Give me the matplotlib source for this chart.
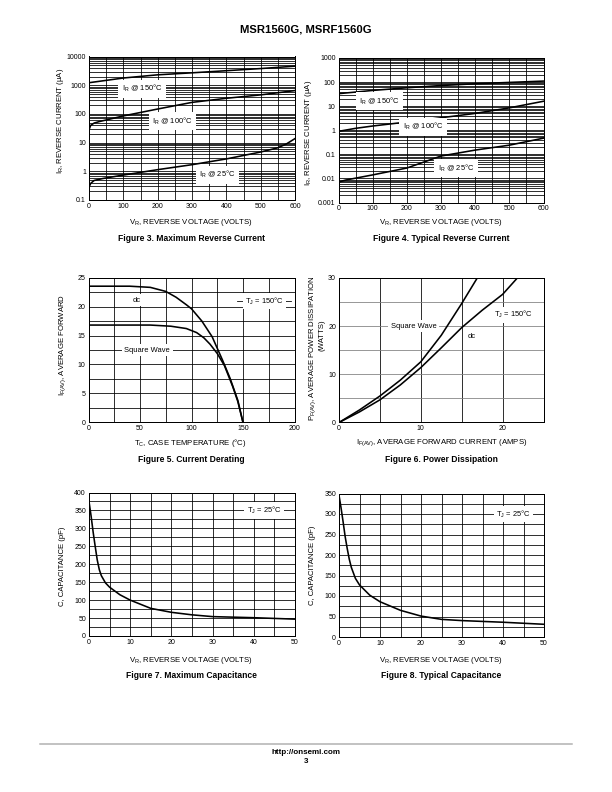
import matplotlib
matplotlib.use("Agg")
import matplotlib.pyplot as plt
from matplotlib.ticker import MultipleLocator, LogLocator, NullFormatter

plt.rcParams['font.family'] = ['Liberation Sans', 'DejaVu Sans']
plt.rcParams['mathtext.fontset'] = 'custom'
plt.rcParams['mathtext.rm'] = 'Liberation Sans'
plt.rcParams['mathtext.it'] = 'Liberation Sans:italic'
plt.rcParams['mathtext.bf'] = 'Liberation Sans:bold'
plt.rcParams['mathtext.default'] = 'regular'

W, H = 612, 792

# Figure 3 - maximum reverse current (uA)
max150_v = [0, 100, 200, 300, 400, 500, 600]
max150_ir = [1220, 1780, 2300, 2700, 3200, 3800, 4600]
max100_v = [0, 5, 15, 30, 100, 200, 300, 400, 500, 600]
max100_ir = [28, 40, 48, 54, 85, 148, 252, 350, 460, 650]
max25_v = [0, 5, 15, 40, 100, 200, 300, 400, 500, 550, 575, 600]
max25_ir = [0.28, 0.38, 0.48, 0.56, 0.74, 1.14, 1.7, 2.7, 4.7, 6.6, 9.0, 13.8]

# Figure 4 - typical reverse current (uA)
typ150_v = [0, 100, 200, 300, 400, 500, 600]
typ150_ir = [33, 45, 58, 72, 85, 97, 110]
typ100_v = [0, 50, 100, 200, 300, 400, 500, 600]
typ100_ir = [0.9, 1.2, 1.5, 2.2, 3.3, 5.0, 8.5, 16]
typ25_v = [0, 20, 100, 200, 300, 400, 500, 600]
typ25_ir = [0.007, 0.0085, 0.014, 0.027, 0.085, 0.15, 0.24, 0.47]

# Figure 5 - current derating
dc_tc = [0, 40, 60, 75, 85, 95, 100, 110, 120, 125, 130, 137.5, 145, 150]
dc_if = [23.5, 23.5, 23.3, 22.6, 21.6, 20.3, 19.6, 17.5, 14.8, 12.8, 10.8, 7.6, 3.8, 0]
sq_tc = [0, 60, 80, 95, 105, 112, 118, 125, 132, 140, 145, 150]
sq_if = [16.8, 16.8, 16.6, 16.2, 15.5, 14.6, 13.5, 11.9, 9.8, 6.2, 3.6, 0]

# Figure 6 - power dissipation
sq_i = [0, 2.5, 5, 7.5, 10, 12.5, 15, 16.9]
sq_p = [0, 2.6, 5.5, 8.8, 12.6, 18.1, 24.7, 30]
dc_i = [0, 2.5, 5, 7.5, 10, 12.5, 15, 17.5, 20, 21.8]
dc_p = [0, 2.2, 4.7, 7.8, 11.4, 15.5, 19.7, 23.3, 26.6, 30]

# Figure 7 / 8 - capacitance (pF)
cap_v = [0, 0.5, 1, 1.5, 2, 2.5, 3, 4, 5, 7.5, 10, 15, 20, 25, 30, 40, 50]
cap_max = [375, 335, 290, 250, 212, 185, 168, 148, 136, 115, 100, 77, 66, 59, 54, 51, 47]
cap_typ = [346, 315, 281, 245, 216, 190, 170, 143, 127, 102, 86, 65, 51, 43, 40, 36, 31]

fig = plt.figure(figsize=(W / 72, H / 72), dpi=72)
TICK = 7
LAB = 7.5
AXL = 7.8
CAP = 8.5
box = dict(facecolor='white', edgecolor='none', pad=2.5)
wbox = dict(facecolor='white', edgecolor='none', pad=3.5)


def add_ax(l, t, r, b):
    ax = fig.add_axes([l / W, 1 - b / H, (r - l) / W, (b - t) / H])
    ax.tick_params(which='both', length=0, labelsize=TICK, pad=3)
    for s in ax.spines.values():
        s.set_linewidth(1.0)
    ax.set_axisbelow(True)
    return ax


def ptext(x, y, s, **kw):
    fig.text(x / W, 1 - y / H, s, **kw)


def log_grid(ax, lo, hi):
    ax.set_yscale('log')
    ax.set_ylim(lo, hi)
    ax.yaxis.set_minor_locator(LogLocator(base=10, subs=range(2, 10), numticks=20))
    ax.yaxis.set_minor_formatter(NullFormatter())
    ax.grid(which='both', axis='y', color='black', lw=0.8)
    ax.xaxis.set_minor_locator(MultipleLocator(50))
    ax.grid(which='both', axis='x', color='black', lw=0.8)
    ax.set_xlim(0, 600)
    ax.set_xticks(range(0, 601, 100))


# ---- Figure 3
ax3 = add_ax(89, 56.5, 295, 200)
log_grid(ax3, 0.1, 10000)
ax3.set_yticks([0.1, 1, 10, 100, 1000, 10000], labels=['0.1', '1', '10', '100', '1000', '10000'])
ax3.plot(max150_v, max150_ir, color='black', lw=1.6)
ax3.plot(max100_v, max100_ir, color='black', lw=1.6)
ax3.plot(max25_v, max25_ir, color='black', lw=1.6)
ax3.text(155, 750, 'I$_R$ @ 150°C', fontsize=LAB, ha='center', va='center', bbox=wbox)
ax3.text(243, 57, 'I$_R$ @ 100°C', fontsize=LAB, ha='center', va='center', bbox=wbox)
ax3.text(374, 0.76, 'I$_R$ @ 25°C', fontsize=LAB, ha='center', va='center', bbox=wbox)
ptext(61, 121, 'I$_R$, REVERSE CURRENT (μA)', fontsize=AXL, rotation=90, ha='center', va='center')
ptext(191, 222.5, 'V$_R$, REVERSE VOLTAGE (VOLTS)', fontsize=AXL, ha='center', va='center')
ptext(191, 239, 'Figure 3. Maximum Reverse Current', fontsize=CAP, weight='bold', ha='center', va='center')

# ---- Figure 4
ax4 = add_ax(338.5, 58, 543.5, 202.5)
log_grid(ax4, 0.001, 1000)
ax4.set_yticks([0.001, 0.01, 0.1, 1, 10, 100, 1000], labels=['0.001', '0.01', '0.1', '1', '10', '100', '1000'])
ax4.plot(typ150_v, typ150_ir, color='black', lw=1.6)
ax4.plot(typ100_v, typ100_ir, color='black', lw=1.6)
ax4.plot(typ25_v, typ25_ir, color='black', lw=1.6)
ax4.text(120, 16, 'I$_R$ @ 150°C', fontsize=LAB, ha='center', va='center', bbox=wbox)
ax4.text(247, 1.4, 'I$_R$ @ 100°C', fontsize=LAB, ha='center', va='center', bbox=wbox)
ax4.text(344, 0.027, 'I$_R$ @ 25°C', fontsize=LAB, ha='center', va='center', bbox=wbox)
ptext(309, 133, 'I$_R$, REVERSE CURRENT (μA)', fontsize=AXL, rotation=90, ha='center', va='center')
ptext(441, 222.5, 'V$_R$, REVERSE VOLTAGE (VOLTS)', fontsize=AXL, ha='center', va='center')
ptext(441, 239, 'Figure 4. Typical Reverse Current', fontsize=CAP, weight='bold', ha='center', va='center')

# ---- Figure 5
ax5 = add_ax(88.5, 277.5, 294.5, 422.5)
ax5.set_xlim(0, 200)
ax5.set_ylim(0, 25)
ax5.set_xticks(range(0, 201, 50))
ax5.set_yticks(range(0, 26, 5))
ax5.xaxis.set_minor_locator(MultipleLocator(25))
ax5.yaxis.set_minor_locator(MultipleLocator(2.5))
ax5.grid(which='both', color='black', lw=0.8)
ax5.plot(dc_tc, dc_if, color='black', lw=1.6)
ax5.plot(sq_tc, sq_if, color='black', lw=1.6)
ax5.text(47, 21.1, 'dc', fontsize=LAB, ha='center', va='center', bbox=box)
ax5.plot([144, 197], [20.9, 20.9], color='black', lw=0.8, zorder=2)
ax5.text(171, 20.9, 'T$_J$ = 150°C', fontsize=LAB, ha='center', va='center', bbox=box, zorder=3)
ax5.text(57, 12.5, 'Square Wave', fontsize=LAB, ha='center', va='center', bbox=box)
ptext(62.5, 345, 'I$_{F(AV)}$, AVERAGE FORWARD', fontsize=AXL, rotation=90, ha='center', va='center')
ptext(190, 443, 'T$_C$, CASE TEMPERATURE (°C)', fontsize=AXL, ha='center', va='center')
ptext(191, 459, 'Figure 5. Current Derating', fontsize=CAP, weight='bold', ha='center', va='center')

# ---- Figure 6
ax6 = add_ax(339, 278, 543.5, 422.5)
ax6.set_xlim(0, 25)
ax6.set_ylim(0, 30)
ax6.set_xticks([0, 10, 20])
ax6.set_yticks([0, 10, 20, 30])
ax6.xaxis.set_minor_locator(MultipleLocator(5))
ax6.yaxis.set_minor_locator(MultipleLocator(5))
ax6.grid(which='both', axis='x', color='black', lw=0.8)
ax6.grid(which='both', axis='y', color='#808080', lw=0.8)
ax6.plot(sq_i, sq_p, color='black', lw=1.6)
ax6.plot(dc_i, dc_p, color='black', lw=1.6)
ax6.text(9.1, 20, 'Square Wave', fontsize=LAB, ha='center', va='center', bbox=box)
ax6.text(16.2, 17.9, 'dc', fontsize=LAB, ha='center', va='center', bbox=box)
ax6.text(21.3, 22.4, 'T$_J$ = 150°C', fontsize=LAB, ha='center', va='center', bbox=box)
ptext(313, 348, 'P$_{F(AV)}$, AVERAGE POWER DISSIPATION', fontsize=AXL, rotation=90, ha='center', va='center')
ptext(322.5, 335.5, '(WATTS)', fontsize=AXL, rotation=90, ha='center', va='center')
ptext(442, 443, 'I$_{F(AV)}$, AVERAGE FORWARD CURRENT (AMPS)', fontsize=AXL, ha='center', va='center')
ptext(441, 459, 'Figure 6. Power Dissipation', fontsize=CAP, weight='bold', ha='center', va='center')

# ---- Figure 7
ax7 = add_ax(89, 492.5, 295, 636)
ax7.set_xlim(0, 50)
ax7.set_ylim(0, 400)
ax7.set_xticks(range(0, 51, 10))
ax7.set_yticks(range(0, 401, 50))
ax7.xaxis.set_minor_locator(MultipleLocator(5))
ax7.yaxis.set_minor_locator(MultipleLocator(25))
ax7.grid(which='both', color='black', lw=0.8)
ax7.plot(cap_v, cap_max, color='black', lw=1.6)
ax7.text(42.5, 350, 'T$_J$ = 25°C', fontsize=LAB, ha='center', va='center', bbox=box)
ptext(63, 566, 'C, CAPACITANCE (pF)', fontsize=AXL, rotation=90, ha='center', va='center')
ptext(191, 660, 'V$_R$, REVERSE VOLTAGE (VOLTS)', fontsize=AXL, ha='center', va='center')
ptext(191, 676, 'Figure 7. Maximum Capacitance', fontsize=CAP, weight='bold', ha='center', va='center')

# ---- Figure 8
ax8 = add_ax(339, 493.5, 544, 637)
ax8.set_xlim(0, 50)
ax8.set_ylim(0, 350)
ax8.set_xticks(range(0, 51, 10))
ax8.set_yticks(range(0, 351, 50))
ax8.xaxis.set_minor_locator(MultipleLocator(5))
ax8.yaxis.set_minor_locator(MultipleLocator(25))
ax8.grid(which='both', color='black', lw=0.8)
ax8.plot(cap_v, cap_typ, color='black', lw=1.6)
ax8.text(42.5, 300, 'T$_J$ = 25°C', fontsize=LAB, ha='center', va='center', bbox=box)
ptext(313, 565, 'C, CAPACITANCE (pF)', fontsize=AXL, rotation=90, ha='center', va='center')
ptext(441, 660, 'V$_R$, REVERSE VOLTAGE (VOLTS)', fontsize=AXL, ha='center', va='center')
ptext(441, 676, 'Figure 8. Typical Capacitance', fontsize=CAP, weight='bold', ha='center', va='center')

# header / footer
ptext(306, 30, 'MSR1560G, MSRF1560G', fontsize=11.3, weight='bold', ha='center', va='center')
fig.add_artist(plt.Line2D([40 / W, 572 / W], [1 - 743.5 / H, 1 - 743.5 / H], color='#b0b0b0', lw=1.5))
ptext(306, 752.5, 'http://onsemi.com', fontsize=8, weight='bold', ha='center', va='center')
ptext(306, 761.5, '3', fontsize=8, weight='bold', ha='center', va='center')

fig.savefig('out.png', dpi=72)
